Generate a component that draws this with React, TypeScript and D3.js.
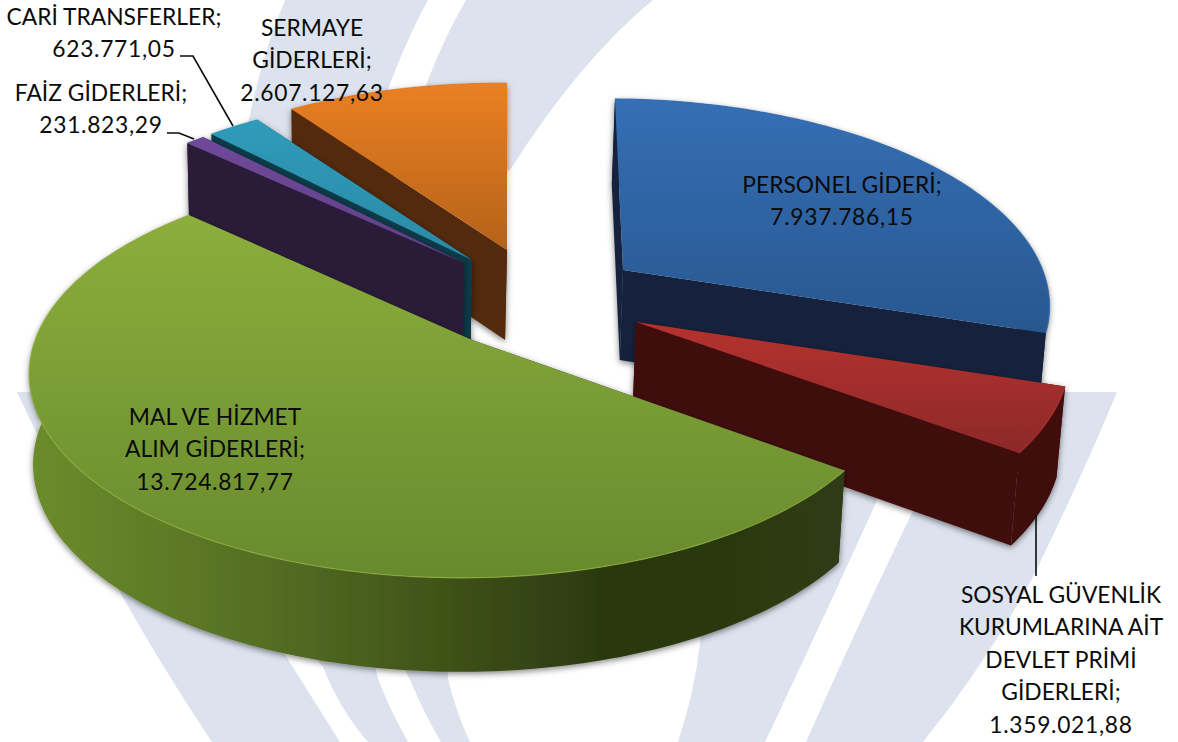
import React from 'react';
import * as d3 from 'd3';

const width = 1178;
const height = 742;

const categories = [
  'PERSONEL GİDERİ',
  'SOSYAL GÜVENLİK KURUMLARINA AİT DEVLET PRİMİ GİDERLERİ',
  'MAL VE HİZMET ALIM GİDERLERİ',
  'FAİZ GİDERLERİ',
  'CARİ TRANSFERLER',
  'SERMAYE GİDERLERİ',
];
const values = [7937786.15, 1359021.88, 13724817.77, 231823.29, 623771.05, 2607127.63];
const wrappedNames = [
  ['PERSONEL GİDERİ;'],
  ['SOSYAL GÜVENLİK', 'KURUMLARINA AİT', 'DEVLET PRİMİ', 'GİDERLERİ;'],
  ['MAL VE HİZMET', 'ALIM GİDERLERİ;'],
  ['FAİZ GİDERLERİ;'],
  ['CARİ TRANSFERLER;'],
  ['SERMAYE', 'GİDERLERİ;'],
];

// slice layout: apex of each exploded slice, small per-slice corrections, colours, label position
const apex = [[623, 270], [636, 322], [472, 340], [464, 263], [472, 260], [507, 250]];
const radiusScale = [1, 1.02, 1, 0.965, 0.965, 0.97];
const twist = [0, 0, 0.6, 0, 0, 0]; // degrees
const shear = [8, 0, 0, 0, 0, 0];
const topColors = [
  ['#356fb5', '#28578f'],
  ['#b5322e', '#8c2929'],
  ['#8cae3c', '#688a2e'],
  ['#70499a', '#603f86'],
  ['#2f9bba', '#2b8aa6'],
  ['#ea8022', '#b5621a'],
];
const wallColors = ['#12243e', '#40110f', '#2c3912', '#2a1e38', '#0d3a4a', '#532c0c'];
const labelPos = [[842, 193], [1061, 603], [215, 425], [101, 101], [114, 25], [312, 36]];
const drawOrder = [0, 5, 4, 3, 1, 2];

const leaders = [
  [[180, 56], [193, 56], [233, 126]],
  [[167, 133], [179, 133], [194, 139]],
  [[1036, 515], [1036, 576]],
];

const trFormat = d3.formatLocale({ decimal: ',', thousands: '.', grouping: [3], currency: ['', ''] }).format(',.2f');

// pie plane -> screen, with a bit of perspective
const rx = 428;
const ry = 199;
const kv = 0.163;
const ku = 0.02;
function project(theta: number, r: number, sh: number) {
  const u = Math.sin(theta) * r;
  const v = -Math.cos(theta) * r;
  const s = 1 / (1 - kv * v + ku * u);
  return { x: rx * u * s + sh * v, y: ry * v * s, v };
}
// the extruded side sits lower and leans slightly in
function lower(p: number[], v: number) {
  return [p[0] - (p[0] - 350) * 0.012, p[1] + 90 + 4 * v];
}

const pieGen = d3.pie<number>().sort(null).startAngle(0).endAngle(2 * Math.PI);
const arcs = pieGen(values);
const line = d3.line();

function Slice({ i }: { i: number }) {
  const a = arcs[i];
  const [ax, ay] = apex[i];
  const off = (twist[i] * Math.PI) / 180;
  const steps = Math.max(4, Math.ceil((a.endAngle - a.startAngle) / 0.02));
  const thetas = d3.range(steps + 1).map(n => off + a.startAngle + ((a.endAngle - a.startAngle) * n) / steps);
  const rim = thetas.map(t => {
    const p = project(t, radiusScale[i], shear[i]);
    return { pt: [ax + p.x, ay + p.y], v: p.v };
  });
  const rimTop = rim.map(d => d.pt);
  const rimLow = rim.map(d => lower(d.pt, d.v));
  const centre = [ax, ay];
  const centreLow = lower(centre, 0);
  const first = rim[0];
  const last = rim[rim.length - 1];
  const wallA = [centre, first.pt, lower(first.pt, first.v), centreLow];
  const wallB = [centre, last.pt, lower(last.pt, last.v), centreLow];
  const side = [...rimTop, ...rimLow.slice().reverse()];
  const top = [centre, ...rimTop];
  const sideFill = i === 2 ? 'url(#greenWall)' : wallColors[i];
  return (
    <g>
      <g filter="url(#soft)">
        <path d={line(wallA as any) + 'Z'} fill={wallColors[i]} />
        <path d={line(wallB as any) + 'Z'} fill={wallColors[i]} />
        <path d={line(side as any) + 'Z'} fill={sideFill} />
      </g>
      <path d={line(top as any) + 'Z'} fill={`url(#top${i})`} />
      <path d={line(rimTop as any) ?? ''} fill="none" stroke={topColors[i][0]} strokeWidth={1.2} opacity={0.8} />
    </g>
  );
}

function Label({ i }: { i: number }) {
  const names = wrappedNames[i];
  const [x, y] = labelPos[i];
  return (
    <text x={x} y={y} textAnchor="middle" fontFamily="Lato, 'Open Sans', sans-serif" fontSize={22.8} fill="#0b0b0b" aria-label={categories[i]}>
      {names.map((l, n) => (
        <tspan key={n} x={x} dy={n === 0 ? 0 : 32.4}>
          {l}
        </tspan>
      ))}
      <tspan x={x} dy={32.4} letterSpacing={0.7}>
        {trFormat(values[i])}
      </tspan>
    </text>
  );
}

export default function App() {
  return (
    <svg width={width} height={height} style={{ position: 'absolute', left: 0, top: 0 }}>
      <defs>
        {topColors.map((c, i) => (
          <linearGradient key={i} id={`top${i}`} x1="0" y1="0" x2="0" y2="1">
            <stop offset="0" stopColor={c[0]} />
            <stop offset="1" stopColor={c[1]} />
          </linearGradient>
        ))}
        <linearGradient id="greenWall" gradientUnits="userSpaceOnUse" x1="30" y1="0" x2="840" y2="0">
          <stop offset="0" stopColor="#6c8c2c" />
          <stop offset="0.3" stopColor="#536d23" />
          <stop offset="0.5" stopColor="#415419" />
          <stop offset="0.72" stopColor="#2a3710" />
          <stop offset="1" stopColor="#2e3b12" />
        </linearGradient>
        <filter id="soft" x="-10%" y="-10%" width="120%" height="120%">
          <feDropShadow dx="0" dy="2" stdDeviation="3" floodColor="#000" floodOpacity="0.5" />
        </filter>
      </defs>
      <rect width={width} height={height} fill="#fff" />

      {/* pale logo stripes behind the chart */}
      <g fill="#dde3ee">
        <path d="M285 0 L428 0 Q395 60 360 170 L240 170 Q255 70 285 0Z" />
        <path d="M466 0 L653 0 Q580 60 510 170 L400 170 Q425 70 466 0Z" />
        <path d="M17 392 L120 392 L340 742 L212 742 Q110 590 17 392Z" />
        <path d="M300 640 L323 667 Q340 710 368 742 L408 742 Q385 700 377 675 L370 640Z" />
        <path d="M390 640 L410 680 Q425 715 441 742 L470 742 Q455 710 448 678 L445 640Z" />
        <path d="M720 490 L880 490 L875 505 Q825 615 765 742 L678 742 Q695 690 700 643Z" />
        <path d="M1064 392 L1117 392 Q1085 470 1033 577 Q985 665 923 742 L806 742 Q860 620 912 513 L960 392Z" />
      </g>

      {drawOrder.map(i => (
        <Slice key={i} i={i} />
      ))}

      <g fill="none" stroke="#0b0b0b" strokeWidth={1.6}>
        {leaders.map((l, i) => (
          <path key={i} d={line(l as any) ?? ''} />
        ))}
      </g>

      {categories.map((_, i) => (
        <Label key={i} i={i} />
      ))}
    </svg>
  );
}
